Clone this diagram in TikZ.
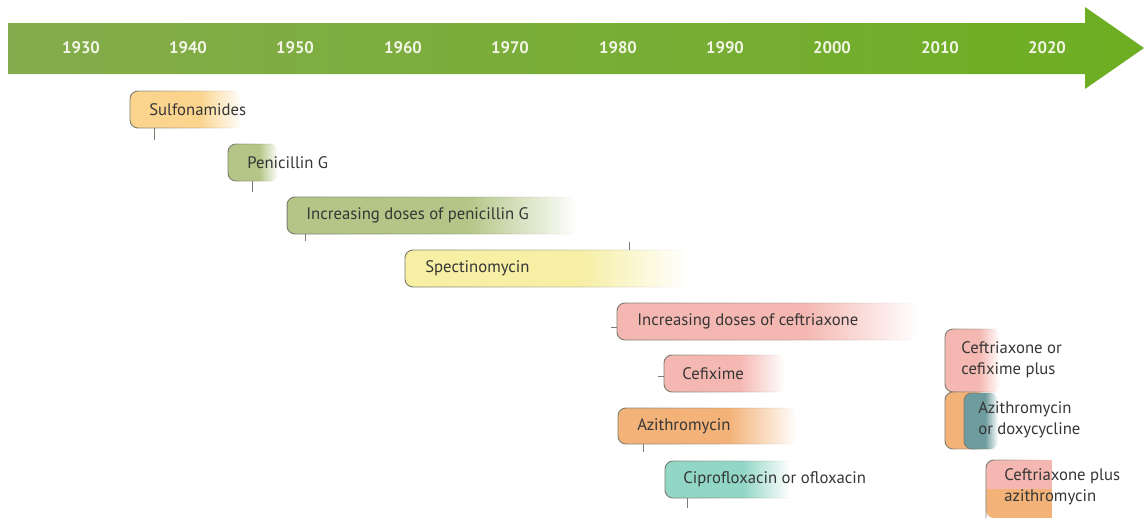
\documentclass[tikz,border=0pt]{standalone}
\usepackage{fontspec}
\setmainfont{PT Sans}
\usetikzlibrary{fadings}
\definecolor{arrowleft}{HTML}{84AC4C}
\definecolor{arrowright}{HTML}{6DAE22}
\definecolor{yeartext}{HTML}{F2F5E6}
\definecolor{sulfa}{HTML}{FBD48E}
\definecolor{peni}{HTML}{B4C687}
\definecolor{spect}{HTML}{F6EFA4}
\definecolor{ceft}{HTML}{F5B7B1}
\definecolor{azi}{HTML}{F3B278}
\definecolor{cipro}{HTML}{92D6C6}
\definecolor{doxy}{HTML}{6E9C9E}
\definecolor{edgegray}{HTML}{7C7C70}
\definecolor{labeltext}{HTML}{363636}
\colorlet{barcolor}{white}
\pgfdeclarehorizontalshading[barcolor]{barshade}{100bp}{color(0bp)=(barcolor); color(25bp)=(barcolor); color(56bp)=(barcolor); color(75bp)=(white); color(100bp)=(white)}
\tikzfading[name=fadeout, left color=transparent!0, middle color=transparent!0, right color=transparent!100]
\tikzset{
	year/.style={font=\fontsize{9.5}{11}\selectfont\bfseries, text=yeartext},
	drug/.style={font=\fontsize{9.5}{12}\selectfont, text=labeltext, anchor=west, align=left, inner sep=0pt},
	barfill/.style={/utils/exec={\colorlet{barcolor}{#1}}, shading=barshade, rounded corners=4.5pt},
	baredge/.style={draw=edgegray, line width=0.55pt, rounded corners=4.5pt, path fading=fadeout},
	tickline/.style={draw=edgegray, line width=0.5pt}
}
\begin{document}
\begin{tikzpicture}[x=0.02cm, y=-0.02cm]
	\useasboundingbox (0,0) rectangle (1144,518);
	\shade[left color=arrowleft, right color=arrowright] (8,23) -- (1085,23) -- (1085,7) -- (1144,48) -- (1085,89) -- (1085,74) -- (8,74) -- cycle;
	\node[year] (y1930) at (81,48) {1930};
	\node[year] (y1940) at (188,48) {1940};
	\node[year] (y1950) at (295,48) {1950};
	\node[year] (y1960) at (403,48) {1960};
	\node[year] (y1970) at (510,48) {1970};
	\node[year] (y1980) at (618,48) {1980};
	\node[year] (y1990) at (725,48) {1990};
	\node[year] (y2000) at (832,48) {2000};
	\node[year] (y2010) at (940,48) {2010};
	\node[year] (y2020) at (1047,48) {2020};

	\shade[barfill=sulfa] (130,91) rectangle (242,128);
	\draw[baredge] (242,91) -- (130,91) -- (130,128) -- (242,128);
	\draw[tickline] (154,128) -- (154,140);
	\node[drug] (sulfa) at (149,109.5) {Sulfonamides};

	\shade[barfill=peni] (228,144) rectangle (278,181);
	\draw[baredge] (278,144) -- (228,144) -- (228,181) -- (278,181);
	\draw[tickline] (252,181) -- (252,192);
	\node[drug] (penig) at (247,162.5) {Penicillin G};

	\shade[barfill=peni] (287,197) rectangle (578,234);
	\draw[baredge] (578,197) -- (287,197) -- (287,234) -- (578,234);
	\draw[tickline] (305,234) -- (305,241);
	\node[drug] (penidose) at (306,215.5) {Increasing doses of penicillin G};

	\shade[barfill=spect] (405,250) rectangle (688,287);
	\draw[baredge] (688,250) -- (405,250) -- (405,287) -- (688,287);
	\draw[tickline] (629,250) -- (629,242);
	\node[drug] (spect) at (425,268.5) {Spectinomycin};

	\shade[barfill=ceft] (617,303) rectangle (918,340);
	\draw[baredge] (918,303) -- (617,303) -- (617,340) -- (918,340);
	\draw[tickline] (617,327) -- (611,327);
	\node[drug] (ceftdose) at (637,321.5) {Increasing doses of ceftriaxone};

	\shade[barfill=ceft] (664,355) rectangle (785,392);
	\draw[baredge] (785,355) -- (664,355) -- (664,392) -- (785,392);
	\draw[tickline] (664,376) -- (658,376);
	\node[drug] (cefix) at (682,373.5) {Cefixime};

	\shade[barfill=azi] (618,408) rectangle (797,444);
	\draw[baredge] (797,408) -- (618,408) -- (618,444) -- (797,444);
	\draw[tickline] (643,444) -- (643,452);
	\node[drug] (azi) at (637,426) {Azithromycin};

	\shade[barfill=cipro] (665,461) rectangle (790,498);
	\draw[baredge] (800,461) -- (665,461) -- (665,498) -- (800,498);
	\draw[tickline] (687,498) -- (687,508);
	\node[drug] (cipro) at (683,479.5) {Ciprofloxacin or ofloxacin};

	\shade[barfill=ceft] (945,329) rectangle (1000,392);
	\draw[baredge] (1000,329) -- (945,329) -- (945,392) -- (1000,392);
	\node[drug] (ceftcefix) at (961,359.5) {Ceftriaxone or\\cefixime plus};

	\fill[azi, rounded corners=4.5pt] (945,392) rectangle (985,449);
	\draw[baredge] (985,392) -- (945,392) -- (945,449) -- (985,449);
	\shade[barfill=doxy] (964,393) rectangle (998,449);
	\draw[baredge] (998,393) -- (964,393) -- (964,449) -- (998,449);
	\node[drug] (azidoxy) at (978,420) {Azithromycin\\or doxycycline};

	\begin{scope}
		\clip[rounded corners=4.5pt] (986,460) rectangle (1080,518);
		\fill[ceft] (986,460) rectangle (1052,489);
		\fill[azi] (986,489) rectangle (1052,518);
	\end{scope}
	\draw[baredge] (1052,460) -- (986,460) -- (986,518);
	\node[drug] (ceftazi) at (1004,487) {Ceftriaxone plus\\azithromycin};
\end{tikzpicture}
\end{document}
